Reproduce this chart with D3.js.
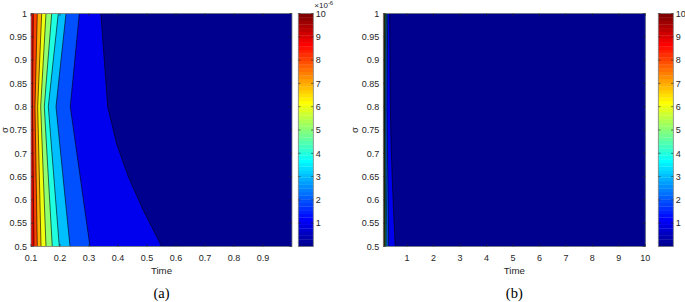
<!DOCTYPE html>
<html><head><meta charset="utf-8">
<script src="https://cdn.jsdelivr.net/npm/d3@7"></script>
<style>
html,body{margin:0;padding:0;background:#fff;}
svg{display:block;}
text{font-family:"Liberation Sans",Arial,sans-serif;fill:#262626;}
</style></head>
<body>
<svg id="chart" width="685" height="302"></svg>
<script>
// ---------- data (values ×10^-6) ----------
const levels = [1, 2, 3, 4, 5, 6, 7, 8, 9];
const colorTicks = [1, 2, 3, 4, 5, 6, 7, 8, 9, 10];
const sigmaKnots = [0.5, 0.8, 1.0];
// level 1 contour (curved)
const level1Sigma = [0.5, 0.578, 0.65, 0.72, 0.8, 1.0];
const level1Time = [0.551, 0.487, 0.4355, 0.3955, 0.3645, 0.341];
// levels 2..9 : time at sigma = 0.5, 0.8, 1.0
const level2Time = [0.3034, 0.2355, 0.2666];
const level3Time = [0.2345, 0.1862, 0.2207];
const level4Time = [0.1976, 0.1597, 0.1941];
const level5Time = [0.1734, 0.1459, 0.1714];
const level6Time = [0.1517, 0.1334, 0.1517];
const level7Time = [0.1345, 0.1231, 0.1369];
const level8Time = [0.1217, 0.1138, 0.1217];
const level9Time = [0.1103, 0.1052, 0.1080];
const yTicks = [0.5, 0.55, 0.6, 0.65, 0.7, 0.75, 0.8, 0.85, 0.9, 0.95, 1];
const xTicksA = [0.1, 0.2, 0.3, 0.4, 0.5, 0.6, 0.7, 0.8, 0.9];
const xTicksB = [1, 2, 3, 4, 5, 6, 7, 8, 9, 10];

const contourLines = [
  {level: 1, sigma: level1Sigma, time: level1Time},
  {level: 2, sigma: sigmaKnots, time: level2Time},
  {level: 3, sigma: sigmaKnots, time: level3Time},
  {level: 4, sigma: sigmaKnots, time: level4Time},
  {level: 5, sigma: sigmaKnots, time: level5Time},
  {level: 6, sigma: sigmaKnots, time: level6Time},
  {level: 7, sigma: sigmaKnots, time: level7Time},
  {level: 8, sigma: sigmaKnots, time: level8Time},
  {level: 9, sigma: sigmaKnots, time: level9Time}
];

// ---------- MATLAB jet(64) ----------
function jetRGB(j) { // j: 1..64
  const u = [];
  for (let i = 1; i <= 16; i++) u.push(i / 16);
  for (let i = 0; i < 15; i++) u.push(1);
  for (let i = 16; i >= 1; i--) u.push(i / 16);
  const get = k => (k >= 1 && k <= 47) ? u[k - 1] : 0;
  const r = get(j - 24), g = get(j - 8), b = get(j + 8);
  return d3.rgb(Math.round(r * 255), Math.round(g * 255), Math.round(b * 255)).toString();
}
const cmin = 0, cmax = 10;
function colorFor(v) {
  let idx = Math.floor((v - cmin) / (cmax - cmin) * 64) + 1;
  idx = Math.max(1, Math.min(64, idx));
  return jetRGB(idx);
}

const svg = d3.select("#chart");
const axisColor = "#262626";
const boxColor = "#808080";

function drawPanel(opt) {
  const x = d3.scaleLinear().domain(opt.xDomain).range([opt.x0, opt.x1]);
  const y = d3.scaleLinear().domain([0.5, 1]).range([opt.y1, opt.y0]);
  const g = svg.append("g");
  const clipId = "clip" + opt.id;
  svg.append("clipPath").attr("id", clipId).append("rect")
    .attr("x", opt.x0).attr("y", opt.y0).attr("width", opt.x1 - opt.x0).attr("height", opt.y1 - opt.y0);
  const pg = g.append("g").attr("clip-path", `url(#${clipId})`);
  // background = top band
  pg.append("rect").attr("x", opt.x0).attr("y", opt.y0)
    .attr("width", opt.x1 - opt.x0).attr("height", opt.y1 - opt.y0)
    .attr("fill", colorFor(9));
  const line = d3.line().x(d => x(d[0])).y(d => y(d[1]));
  const xmax = opt.xDomain[1];
  const ordered = contourLines.slice().sort((a, b) => b.level - a.level);
  ordered.forEach(c => {
    const pts = c.time.map((t, i) => [t, c.sigma[i]]);
    const poly = pts.concat([[xmax * 1.1, 1], [xmax * 1.1, 0.5]]);
    pg.append("path").attr("d", line(poly) + "Z")
      .attr("fill", colorFor(c.level - 1)).attr("stroke", "none");
  });
  ordered.forEach(c => {
    const pts = c.time.map((t, i) => [t, c.sigma[i]]);
    pg.append("path").attr("d", line(pts))
      .attr("fill", "none").attr("stroke", "#000").attr("stroke-width", 0.6);
  });
  // box
  g.append("rect").attr("x", opt.x0).attr("y", opt.y0)
    .attr("width", opt.x1 - opt.x0).attr("height", opt.y1 - opt.y0)
    .attr("fill", "none").attr("stroke", boxColor).attr("stroke-width", 0.8);
  const tl = 2.6;
  // x ticks
  opt.xTicks.forEach(t => {
    const px = x(t);
    g.append("line").attr("x1", px).attr("x2", px).attr("y1", opt.y1).attr("y2", opt.y1 - tl)
      .attr("stroke", axisColor).attr("stroke-width", 0.6);
    g.append("line").attr("x1", px).attr("x2", px).attr("y1", opt.y0).attr("y2", opt.y0 + tl)
      .attr("stroke", axisColor).attr("stroke-width", 0.6);
    g.append("text").attr("x", px).attr("y", opt.y1 + 14).attr("text-anchor", "middle")
      .attr("font-size", 9).text(d3.format("")(t));
  });
  yTicks.forEach(t => {
    const py = y(t);
    g.append("line").attr("x1", opt.x0).attr("x2", opt.x0 + tl).attr("y1", py).attr("y2", py)
      .attr("stroke", axisColor).attr("stroke-width", 0.6);
    g.append("line").attr("x1", opt.x1).attr("x2", opt.x1 - tl).attr("y1", py).attr("y2", py)
      .attr("stroke", axisColor).attr("stroke-width", 0.6);
    g.append("text").attr("x", opt.x0 - 4).attr("y", py + 3.2).attr("text-anchor", "end")
      .attr("font-size", 9).text(d3.format("")(t));
  });
  // axis labels
  g.append("text").attr("x", (opt.x0 + opt.x1) / 2).attr("y", opt.y1 + 27.5)
    .attr("text-anchor", "middle").attr("font-size", 9.7).text("Time");
  g.append("text").attr("transform", `translate(${opt.sigmaX},${(opt.y0 + opt.y1) / 2}) rotate(-90)`)
    .attr("text-anchor", "middle").attr("font-size", 9.5).text("σ");
  g.append("text").attr("x", (opt.x0 + opt.x1) / 2).attr("y", 298)
    .attr("text-anchor", "middle").attr("font-size", 14.5)
    .style("font-family", "'Liberation Serif','Times New Roman',serif").style("fill", "#000")
    .text(opt.caption);

  // colorbar
  const cy = d3.scaleLinear().domain([cmin, cmax]).range([opt.y1, opt.y0]);
  const cb = svg.append("g");
  for (let j = 1; j <= 64; j++) {
    const v0 = cmin + (j - 1) / 64 * (cmax - cmin), v1 = cmin + j / 64 * (cmax - cmin);
    cb.append("rect").attr("x", opt.cbx).attr("y", cy(v1)).attr("width", opt.cbw)
      .attr("height", cy(v0) - cy(v1) + 0.3).attr("fill", jetRGB(j));
  }
  cb.append("rect").attr("x", opt.cbx).attr("y", opt.y0).attr("width", opt.cbw)
    .attr("height", opt.y1 - opt.y0).attr("fill", "none").attr("stroke", boxColor).attr("stroke-width", 0.8);
  colorTicks.forEach(v => {
    const py = cy(v);
    cb.append("line").attr("x1", opt.cbx + opt.cbw).attr("x2", opt.cbx + opt.cbw - 2.2)
      .attr("y1", py).attr("y2", py).attr("stroke", axisColor).attr("stroke-width", 0.6);
    cb.append("line").attr("x1", opt.cbx).attr("x2", opt.cbx + 2.2)
      .attr("y1", py).attr("y2", py).attr("stroke", axisColor).attr("stroke-width", 0.6);
    cb.append("text").attr("x", opt.cbx + opt.cbw + 2.5).attr("y", py + 3.2)
      .attr("font-size", 9).text(v);
  });
  if (opt.exponent) {
    const t = cb.append("text").attr("x", opt.cbx + opt.cbw + 1).attr("y", 8).attr("font-size", 8);
    t.append("tspan").text("×10");
    t.append("tspan").attr("dy", -3.5).attr("font-size", 6).text("-6");
  }
}

drawPanel({id: "a", x0: 31, x1: 292, y0: 13.5, y1: 246.5, xDomain: [0.1, 1.0],
  xTicks: xTicksA, sigmaX: 7.5, caption: "(a)", cbx: 298.3, cbw: 15, exponent: true});
drawPanel({id: "b", x0: 383.3, x1: 645.3, y0: 13.5, y1: 246.5, xDomain: [0.1, 10],
  xTicks: xTicksB, sigmaX: 357.5, caption: "(b)", cbx: 658.3, cbw: 15, exponent: false});
</script>
</body></html>
